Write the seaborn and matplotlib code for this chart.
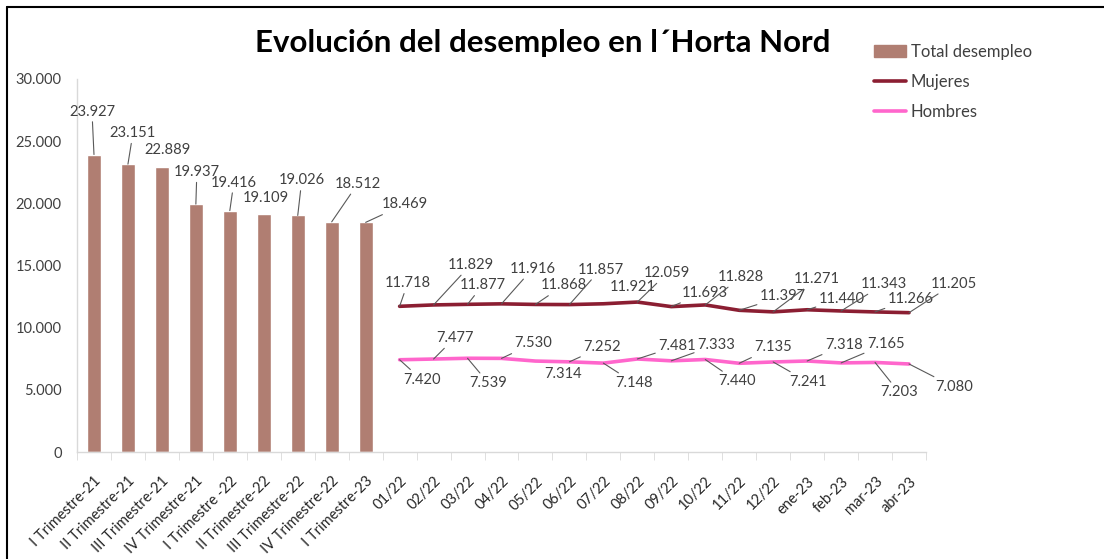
import numpy as np
import pandas as pd
import matplotlib
matplotlib.use("Agg")
import matplotlib.pyplot as plt
from matplotlib.lines import Line2D
from matplotlib.patches import Patch
from matplotlib.ticker import FuncFormatter, MultipleLocator, FixedLocator
import seaborn as sns

# --- data -------------------------------------------------------------
quarters = ["I Trimestre-21", "II Trimestre-21", "III Trimestre-21", "IV Trimestre-21",
            "I Trimestre -22", "II Trimestre-22", "III Trimestre-22", "IV Trimestre-22",
            "I Trimestre-23"]
months = ["01/22", "02/22", "03/22", "04/22", "05/22", "06/22", "07/22", "08/22",
          "09/22", "10/22", "11/22", "12/22", "ene-23", "feb-23", "mar-23", "abr-23"]
total_desempleo = [23927, 23151, 22889, 19937, 19416, 19109, 19026, 18512, 18469]
mujeres = [11718, 11829, 11877, 11916, 11868, 11857, 11921, 12059,
           11693, 11828, 11397, 11271, 11440, 11343, 11266, 11205]
hombres = [7420, 7477, 7539, 7530, 7314, 7252, 7148, 7481,
           7333, 7440, 7135, 7241, 7318, 7165, 7203, 7080]

# label placement: (dx px, dy px downward, leader line?)
bar_lbl = [(-2, -43, True), (5, -31, True), (6, -17, False), (1, -32, True), (4, -28, True),
           (2, -16, False), (4, -35, True), (26, -38, True), (39, -18, True)]
muj_lbl = [(8, -23, True), (37, -40, True), (15, -19, True), (31, -35, True), (28, -19, True),
           (31, -35, True), (29, -17, False), (30, -29, True), (34, -14, True), (36, -28, True),
           (44, -14, True), (44, -33, True), (35, -11, True), (43, -27, True), (36, -13, True),
           (45, -29, True)]
hom_lbl = [(22, 20, True), (21, -21, True), (21, 25, True), (32, -15, True), (28, 13, False),
           (33, -15, True), (31, 20, True), (40, -13, True), (45, -16, True), (32, 22, True),
           (34, -16, True), (35, 20, True), (37, -16, True), (45, -19, True), (24, 30, True),
           (45, 23, True)]

BAR_COLOR = "#B07E72"
MUJ_COLOR = "#8B1E32"
HOM_COLOR = "#FF66CC"
TXT = "#404040"
AXC = "#D9D9D9"

sns.set_style("white")
plt.rcParams["font.family"] = ["Lato", "DejaVu Sans"]

W, H = 1104, 559
fig = plt.figure(figsize=(W / 100, H / 100), dpi=100)
ax = fig.add_axes([77 / W, (H - 452) / H, (926 - 77) / W, (452 - 79) / H])

n_q = len(quarters)
df_bar = pd.DataFrame({"pos": np.arange(n_q), "valor": total_desempleo})
month_pos = np.arange(n_q, n_q + len(months))
df_lines = pd.concat([
    pd.DataFrame({"pos": month_pos, "valor": mujeres, "serie": "Mujeres"}),
    pd.DataFrame({"pos": month_pos, "valor": hombres, "serie": "Hombres"}),
])

sns.barplot(data=df_bar, x="pos", y="valor", native_scale=True, width=0.42,
            color=BAR_COLOR, saturation=1, ax=ax)
sns.lineplot(data=df_lines, x="pos", y="valor", hue="serie",
             palette={"Mujeres": MUJ_COLOR, "Hombres": HOM_COLOR},
             linewidth=2.6, legend=False, sort=False, ax=ax)

ax.set_xlim(-0.5, n_q + len(months) - 0.5)
ax.set_ylim(0, 30000)
ax.set_xlabel("")
ax.set_ylabel("")

# axes styling
for s in ["top", "right"]:
    ax.spines[s].set_visible(False)
for s in ["left", "bottom"]:
    ax.spines[s].set_color(AXC)
    ax.spines[s].set_linewidth(1)

ax.yaxis.set_major_locator(MultipleLocator(5000))
ax.yaxis.set_major_formatter(FuncFormatter(lambda v, p: f"{int(v):,}".replace(",", ".")))
ax.tick_params(axis="y", length=5, color=AXC, labelsize=10.5, labelcolor=TXT, pad=6)

all_labels = quarters + months
n_all = len(all_labels)
ax.xaxis.set_major_locator(FixedLocator(np.arange(n_all)))
ax.set_xticklabels(all_labels, rotation=45, ha="right", va="top", rotation_mode="anchor")
ax.xaxis.set_minor_locator(FixedLocator(np.arange(n_all + 1) - 0.5))
ax.tick_params(axis="x", which="major", length=0, labelsize=10.5, labelcolor="#262626", pad=16)
ax.tick_params(axis="x", which="minor", length=6, color=AXC, bottom=True)


def fmt(v):
    return f"{v:,}".replace(",", ".")


def label_points(xs, ys, offsets):
    for x, y, (dx, dy, leader) in zip(xs, ys, offsets):
        arrow = None
        if leader:
            arrow = dict(arrowstyle="-", color="#595959", lw=0.8, shrinkA=0, shrinkB=0)
        ax.annotate(fmt(y), xy=(x, y), xytext=(dx, -dy), textcoords="offset pixels",
                    ha="center", va="center", fontsize=10.6, color=TXT,
                    arrowprops=arrow, annotation_clip=False)


label_points(df_bar["pos"], total_desempleo, bar_lbl)
label_points(month_pos, mujeres, muj_lbl)
label_points(month_pos, hombres, hom_lbl)

# title
fig.text(543 / W, 1 - 43 / H, "Evolución del desempleo en l´Horta Nord",
         ha="center", va="center", fontsize=22.5, fontweight="bold", color="black")

# legend
handles = [Patch(color=BAR_COLOR), Line2D([], [], color=MUJ_COLOR, lw=2.6),
           Line2D([], [], color=HOM_COLOR, lw=2.6)]
fig.legend(handles, ["Total desempleo", "Mujeres", "Hombres"], loc="upper left",
           bbox_to_anchor=(874 / W, 1 - 44 / H), frameon=False, fontsize=12,
           handlelength=1.9, handletextpad=0.3, labelspacing=0.83, labelcolor=TXT,
           borderaxespad=0, borderpad=0)

# outer frame (left and top edges visible)
fig.add_artist(Line2D([7 / W, 7 / W], [0, 1 - 7 / H], color="black", lw=1.5))
fig.add_artist(Line2D([7 / W, 1], [1 - 7 / H, 1 - 7 / H], color="black", lw=1.5))

fig.savefig("out.png", dpi=100)
